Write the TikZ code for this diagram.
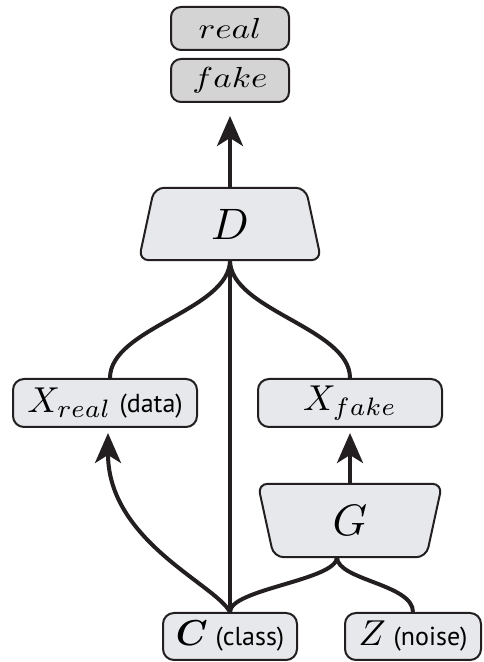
\documentclass[tikz,border=0pt]{standalone}
\usepackage{bm}
\usepackage{fontspec}
\newfontfamily\tagfont{PT Sans}
\usetikzlibrary{arrows.meta,backgrounds}

\begin{document}
\begin{tikzpicture}[x=1pt,y=1pt,
  box/.style={draw=lineColor,fill=boxColor,line width=2pt,rounded corners=11pt,inner sep=0pt,minimum height=48pt},
  outbox/.style={draw=lineColor,fill=outColor,line width=2pt,rounded corners=10pt,inner sep=0pt,minimum width=118pt,minimum height=43pt},
  net/.style={inner sep=0pt,minimum height=72pt},
  netshape/.style={draw=lineColor,fill=boxColor,line width=2pt,rounded corners=10pt},
  link/.style={draw=lineColor,line width=4pt},
  flow/.style={link,-{Stealth[length=30pt,width=26pt,inset=8pt]}}]
\definecolor{lineColor}{RGB}{35,31,32}
\definecolor{boxColor}{RGB}{231,232,236}
\definecolor{outColor}{RGB}{212,212,212}
\path[use as bounding box] (0,0) rectangle (483,662);

\node[outbox] (real) at (230,633.5) {\scalebox{3.5}[2.9]{$real$}};

\node[outbox] (fake) at (230,581.5) {\scalebox{3.5}[2.9]{$fake$}};

\node[net,minimum width=182pt] (D) at (230,438) {\scalebox{4.4}{$D$}};

\node[box,minimum width=184pt] (Xreal) at (105,259) {\scalebox{3.6}{$X_{real}$}\hspace{8pt}{\tagfont\fontsize{26}{30}\selectfont(data)}};

\node[box,minimum width=184pt] (Xfake) at (350,259) {\scalebox{3.6}{$X_{fake}$}};

\node[net,minimum width=184pt,minimum height=73pt] (G) at (350,141.5) {\scalebox{4.4}{$G$}};

\node[box,minimum width=134pt,minimum height=47pt] (C) at (230,25.5) {\scalebox{3.6}{$\bm{C}$}\hspace{8pt}{\tagfont\fontsize{26}{30}\selectfont(class)}};

\node[box,minimum width=136pt,minimum height=47pt] (Z) at (413,25.5) {\scalebox{3.6}{$Z$}\hspace{8pt}{\tagfont\fontsize{26}{30}\selectfont(noise)}};

\begin{scope}[on background layer]
\path[netshape] ([xshift=15.5pt]D.north west) -- ([xshift=-15.5pt]D.north east) -- (D.south east) -- (D.south west) -- cycle;

\path[netshape] (G.north west) -- (G.north east) -- ([xshift=-16pt]G.south east) -- ([xshift=16pt]G.south west) -- cycle;
\end{scope}

% discriminator side
\draw[flow] (D.north) -- ([yshift=-13pt]fake.south);

\draw[link] (D.south) .. controls +(0,-50) and +(0,50) .. ([xshift=5pt]Xreal.north);

\draw[link] (D.south) .. controls +(0,-50) and +(0,50) .. (Xfake.north);

\draw[link] (C.north) -- (D.south);

% generator side
\draw[flow] (C.north) .. controls +(-15,28) and +(0,-108) .. ([xshift=3pt,yshift=-5pt]Xreal.south);

\draw[link] (C.north) .. controls +(0,23) and +(0,-23) .. ([xshift=-13pt]G.south);

\draw[link] ([xshift=-13pt]G.south) .. controls +(0,-23) and +(0,28) .. (Z.north);

\draw[flow] (G.north) -- ([yshift=-5pt]Xfake.south);
\end{tikzpicture}
\end{document}
